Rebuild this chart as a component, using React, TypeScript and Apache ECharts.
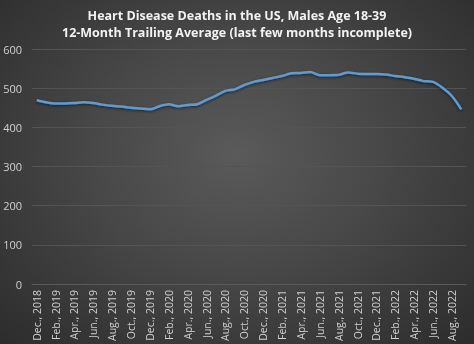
import React, { useEffect, useRef } from "react";
import * as echarts from "echarts";

const titleLines = [
  "Heart Disease Deaths in the US, Males Age 18-39",
  "12-Month Trailing Average (last few months incomplete)",
];

const categories: string[] = [
  "Dec., 2018",
  "Jan., 2019", "Feb., 2019", "Mar., 2019", "Apr., 2019", "May, 2019", "Jun., 2019",
  "Jul., 2019", "Aug., 2019", "Sep., 2019", "Oct., 2019", "Nov., 2019", "Dec., 2019",
  "Jan., 2020", "Feb., 2020", "Mar., 2020", "Apr., 2020", "May, 2020", "Jun., 2020",
  "Jul., 2020", "Aug., 2020", "Sep., 2020", "Oct., 2020", "Nov., 2020", "Dec., 2020",
  "Jan., 2021", "Feb., 2021", "Mar., 2021", "Apr., 2021", "May, 2021", "Jun., 2021",
  "Jul., 2021", "Aug., 2021", "Sep., 2021", "Oct., 2021", "Nov., 2021", "Dec., 2021",
  "Jan., 2022", "Feb., 2022", "Mar., 2022", "Apr., 2022", "May, 2022", "Jun., 2022",
  "Jul., 2022", "Aug., 2022", "Sep., 2022",
];

const deaths: number[] = [
  469, 464, 461, 461, 462, 464, 462, 458, 455, 453, 450, 448,
  446, 454, 459, 454, 457, 459, 470, 481, 493, 497, 508, 516,
  521, 526, 531, 538, 539, 541, 533, 533, 534, 540, 537, 536,
  536, 535, 531, 528, 524, 518, 516, 501, 480, 446,
];

const yTicks = [0, 100, 200, 300, 400, 500, 600];

export default function App() {
  const ref = useRef<HTMLDivElement>(null);
  useEffect(() => {
    if (!ref.current) return;
    const chart = echarts.init(ref.current, null, { renderer: "svg" });
    chart.setOption({
      animation: false,
      title: {
        text: titleLines.join("\n"),
        left: "center",
        top: 2,
        textStyle: {
          color: "#f2f2f2",
          fontFamily: "Open Sans",
          fontWeight: "bold",
          fontSize: 12.5,
          lineHeight: 17,
        },
      },
      grid: { left: 32, right: 8, top: 49, bottom: 60, containLabel: false },
      xAxis: {
        type: "category",
        data: categories,
        boundaryGap: true,
        axisLine: { show: true, lineStyle: { color: "#5a5a5a", width: 1 } },
        axisTick: { show: false },
        axisLabel: {
          interval: 1,
          rotate: 90,
          color: "#d0d0d0",
          fontFamily: "Open Sans",
          fontSize: 10.5,
          margin: 6,
        },
      },
      yAxis: {
        type: "value",
        min: yTicks[0],
        max: yTicks[yTicks.length - 1],
        interval: 100,
        axisLine: { show: false },
        axisTick: { show: false },
        splitLine: { lineStyle: { color: "#545454", width: 1 } },
        axisLabel: {
          color: "#d0d0d0",
          fontFamily: "Open Sans",
          fontSize: 11,
          margin: 10,
        },
      },
      series: [
        {
          type: "line",
          data: deaths,
          smooth: 0.3,
          showSymbol: false,
          lineStyle: {
            color: "#5b9bd5",
            width: 2.5,
            shadowColor: "rgba(0,0,0,0.6)",
            shadowBlur: 3,
            shadowOffsetY: 1,
          },
        },
      ],
    });
    return () => chart.dispose();
  }, []);
  return (
    <div
      style={{
        position: "fixed",
        left: 0,
        top: 0,
        width: 474,
        height: 344,
        background: "radial-gradient(ellipse at 50% 45%, #5a5a5a 0%, #474747 45%, #2c2c2c 100%)",
      }}
    >
      <div ref={ref} style={{ width: 474, height: 344 }} />
    </div>
  );
}
